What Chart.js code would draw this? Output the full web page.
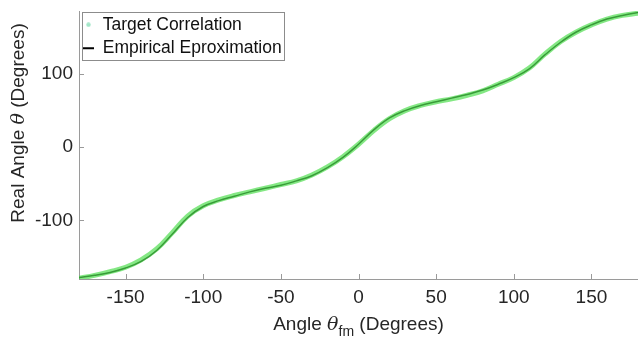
<!DOCTYPE html>
<html>
<head>
<meta charset="utf-8">
<script src="https://cdn.jsdelivr.net/npm/chart.js@4/dist/chart.umd.min.js"></script>
<style>
  html, body { margin: 0; padding: 0; background: #fff; }
  #wrap { width: 638px; height: 340px; }
</style>
</head>
<body>
<div id="wrap"><canvas id="angles" width="638" height="340"></canvas></div>
<script>
// values (degrees)
const angleFm = [-180, -170, -160, -150, -140, -130, -120, -110, -100, -90, -80, -70, -60, -50, -40, -30, -20, -10,
    0, 10, 20, 30, 40, 50, 60, 70, 80, 90, 100, 110, 120, 130, 140, 150, 160, 170, 180];
const targetAngle = [-179, -175, -170, -164, -154, -139, -117, -94, -80, -72, -66, -61, -56, -51, -46, -38, -27, -13,
    4, 23, 39, 50, 57, 62, 66, 71, 77, 86, 95, 108, 127, 144, 157, 167, 175, 180, 183];
const empiricalAngle = [-178, -175, -171, -165, -156, -141, -119, -96, -81, -73, -67, -61, -56, -52, -46, -39, -28, -14,
    4, 24, 40, 50, 57, 62, 67, 72, 78, 86, 95, 107, 126, 143, 157, 167, 175, 180, 184];
const xTickValues = [-150, -100, -50, 0, 50, 100, 150];
const yTickValues = [-100, 0, 100];

const axisColor = '#9a9a9a';
const labelColor = '#262626';
const fontFamily = '"Liberation Sans", Arial, sans-serif';

function toPoints(xs, ys) {
    return xs.map((x, i) => ({ x: x, y: ys[i] }));
}

// small round marker for the scatter entry of the legend
function dotMarker(color) {
    const c = document.createElement('canvas');
    c.width = 5;
    c.height = 5;
    const g = c.getContext('2d');
    g.fillStyle = color;
    g.beginPath();
    g.arc(2.5, 2.5, 2.2, 0, Math.PI * 2);
    g.fill();
    return c;
}

// MATLAB style ticks, pointing into the plot
const innerTicks = {
    id: 'innerTicks',
    afterDraw(chart) {
        const { ctx, chartArea, scales } = chart;
        ctx.save();
        ctx.strokeStyle = axisColor;
        ctx.lineWidth = 1;
        ctx.beginPath();
        scales.x.ticks.forEach(t => {
            const px = Math.round(scales.x.getPixelForValue(t.value)) + 0.5;
            ctx.moveTo(px, chartArea.bottom);
            ctx.lineTo(px, chartArea.bottom - 5);
        });
        scales.y.ticks.forEach(t => {
            const py = Math.round(scales.y.getPixelForValue(t.value)) + 0.5;
            ctx.moveTo(chartArea.left, py);
            ctx.lineTo(chartArea.left + 5, py);
        });
        ctx.stroke();
        ctx.restore();
    }
};

// legend sits inside the axes, a little below the top, with a frame round it
const legendFrame = {
    id: 'legendFrame',
    afterUpdate(chart) {
        const legend = chart.legend;
        const dx = -2, dy = 10;
        legend.left += dx;
        legend.right += dx;
        legend.top += dy;
        legend.bottom += dy;
        legend.legendHitBoxes.forEach(b => { b.left += dx; b.top += dy; });
    },
    afterDraw(chart) {
        const boxes = chart.legend.legendHitBoxes;
        if (!boxes || !boxes.length) return;
        const left = Math.min(...boxes.map(b => b.left)) - 1;
        const top = Math.min(...boxes.map(b => b.top)) - 4;
        const right = Math.max(...boxes.map(b => b.left + b.width)) + 2;
        const bottom = Math.max(...boxes.map(b => b.top + b.height)) + 3;
        const ctx = chart.ctx;
        ctx.save();
        ctx.strokeStyle = '#8c8c8c';
        ctx.lineWidth = 1;
        ctx.strokeRect(Math.round(left) + 0.5, Math.round(top) + 0.5, Math.round(right - left), Math.round(bottom - top));
        ctx.restore();
    }
};

// axis titles, with the italic theta and the "fm" subscript
function drawParts(ctx, parts, x, y) {
    let total = 0;
    parts.forEach(p => { ctx.font = p.font; total += ctx.measureText(p.text).width; });
    let cx = x - total / 2;
    parts.forEach(p => {
        ctx.font = p.font;
        ctx.fillText(p.text, cx, y + (p.dy || 0));
        cx += ctx.measureText(p.text).width;
    });
}

const axisTitles = {
    id: 'axisTitles',
    afterDraw(chart) {
        const ctx = chart.ctx;
        const area = chart.chartArea;
        const plain = '19px ' + fontFamily;
        const italic = 'italic 19px "DejaVu Serif", serif';
        ctx.save();
        ctx.fillStyle = labelColor;
        ctx.textBaseline = 'alphabetic';
        ctx.textAlign = 'left';
        drawParts(ctx, [
            { text: 'Angle ', font: plain },
            { text: 'θ', font: italic },
            { text: 'fm', font: '14px ' + fontFamily, dy: 6 },
            { text: ' (Degrees)', font: plain }
        ], (area.left + area.right) / 2, 330);

        ctx.translate(24, 123);
        ctx.rotate(-Math.PI / 2);
        drawParts(ctx, [
            { text: 'Real Angle ', font: plain },
            { text: 'θ', font: italic },
            { text: ' (Degrees)', font: plain }
        ], 0, 0);
        ctx.restore();
    }
};

const chart = new Chart(document.getElementById('angles'), {
    type: 'line',
    data: {
        datasets: [
            {
                label: 'Target Correlation',
                data: toPoints(angleFm, targetAngle),
                borderColor: 'rgba(80, 222, 80, 0.7)',
                borderWidth: 5,
                tension: 0.4,
                pointRadius: 0,
                pointStyle: dotMarker('#a3e6c8'),
                pointBackgroundColor: '#a3e6c8',
                pointBorderColor: '#a3e6c8',
                pointBorderWidth: 0
            },
            {
                label: 'Empirical Eproximation',
                data: toPoints(angleFm, empiricalAngle),
                borderColor: '#000000',
                borderWidth: 1.5,
                tension: 0.4,
                pointRadius: 0,
                pointStyle: 'line',
                pointBorderColor: '#000000',
                pointBorderWidth: 2
            }
        ]
    },
    options: {
        responsive: false,
        animation: false,
        events: [],
        layout: { padding: { top: 11, right: 0, left: 0, bottom: 0 } },
        scales: {
            x: {
                type: 'linear',
                min: -180,
                max: 180,
                afterBuildTicks: (scale) => { scale.ticks = xTickValues.map(v => ({ value: v })); },
                afterFit: (scale) => {
                    scale.height = 61;
                    scale.paddingLeft = 0;
                    scale.paddingRight = 0;
                },
                grid: { display: false, drawTicks: false },
                border: { display: true, color: axisColor, width: 1 },
                ticks: {
                    padding: 7,
                    maxRotation: 0,
                    color: labelColor,
                    font: { family: fontFamily, size: 19 }
                }
            },
            y: {
                type: 'linear',
                min: -180,
                max: 186,
                afterBuildTicks: (scale) => { scale.ticks = yTickValues.map(v => ({ value: v })); },
                afterFit: (scale) => {
                    scale.width = 79;
                    scale.paddingTop = 0;
                    scale.paddingBottom = 0;
                },
                grid: { display: false, drawTicks: false },
                border: { display: true, color: axisColor, width: 1 },
                ticks: {
                    padding: 6,
                    color: labelColor,
                    font: { family: fontFamily, size: 19 }
                }
            }
        },
        plugins: {
            legend: {
                position: 'chartArea',
                align: 'start',
                labels: {
                    usePointStyle: true,
                    pointStyleWidth: 11,
                    boxHeight: 3,
                    padding: 6,
                    color: '#111111',
                    font: { family: fontFamily, size: 17.5 }
                }
            },
            tooltip: { enabled: false }
        }
    },
    plugins: [innerTicks, legendFrame, axisTitles]
});
</script>
</body>
</html>
